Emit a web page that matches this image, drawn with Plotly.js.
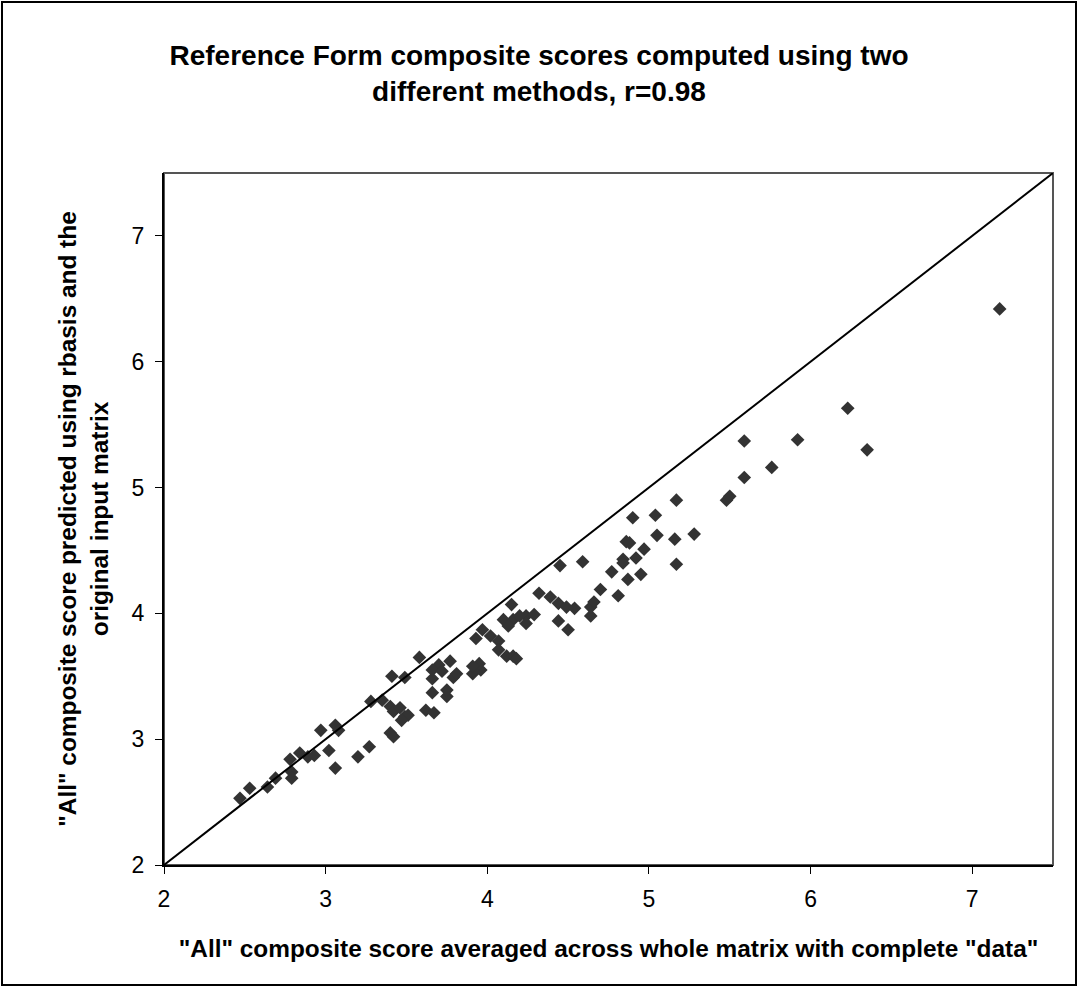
<!DOCTYPE html>
<html>
<head>
<meta charset="utf-8">
<script src="https://cdn.plot.ly/plotly-3.0.1.min.js"></script>
<style>html,body{margin:0;padding:0;background:#fff;}#chart{width:1078px;height:987px;}</style>
</head>
<body>
<div id="chart"></div>
<script>
// "All" composite score averaged across whole matrix with complete "data"
var averagedScore = [
  2.47, 2.53, 2.64, 2.69, 2.78, 2.79, 2.79, 2.84, 2.89, 2.93,
  2.97, 3.02, 3.06, 3.08, 3.06, 3.20, 3.27, 3.28, 3.35, 3.40,
  3.42, 3.46, 3.40, 3.42, 3.41, 3.49, 3.58, 3.49, 3.51, 3.47,
  3.62, 3.67, 3.66, 3.75, 3.66, 3.75, 3.79, 3.70, 3.77, 3.66,
  3.72, 3.81, 3.91, 3.96, 3.95, 3.91, 3.97, 3.93, 4.02, 4.07,
  4.07, 4.12, 4.16, 4.18, 4.15, 4.10, 4.16, 4.13, 4.24, 4.29,
  4.20, 4.24, 4.32, 4.39, 4.44, 4.49, 4.54, 4.45, 4.59, 4.50,
  4.44, 4.64, 4.66, 4.64, 4.70, 4.81, 4.77, 4.84, 4.84, 4.86,
  4.88, 4.87, 4.95, 4.92, 4.97, 4.90, 5.04, 5.05, 5.16, 5.17,
  5.17, 5.28, 5.48, 5.50, 5.59, 5.59, 5.76, 5.92, 6.23, 6.35,
  7.17
];
// "All" composite score predicted using rbasis and the original input matrix
var predictedScore = [
  2.53, 2.61, 2.62, 2.69, 2.84, 2.74, 2.69, 2.89, 2.86, 2.87,
  3.07, 2.91, 3.11, 3.07, 2.77, 2.86, 2.94, 3.30, 3.31, 3.26,
  3.22, 3.25, 3.05, 3.02, 3.50, 3.49, 3.65, 3.18, 3.19, 3.15,
  3.23, 3.21, 3.37, 3.34, 3.48, 3.39, 3.49, 3.59, 3.62, 3.55,
  3.54, 3.52, 3.52, 3.55, 3.60, 3.58, 3.87, 3.80, 3.82, 3.78,
  3.71, 3.66, 3.66, 3.64, 4.07, 3.95, 3.95, 3.90, 3.98, 3.99,
  3.98, 3.92, 4.16, 4.13, 4.08, 4.05, 4.04, 4.38, 4.41, 3.87,
  3.94, 4.05, 4.09, 3.98, 4.19, 4.14, 4.33, 4.43, 4.40, 4.57,
  4.56, 4.27, 4.31, 4.44, 4.51, 4.76, 4.78, 4.62, 4.59, 4.39,
  4.90, 4.63, 4.90, 4.93, 5.08, 5.37, 5.16, 5.38, 5.63, 5.30,
  6.42
];
// Identity reference line (y = x), corner to corner
var identityX = [2, 7.5];
var identityY = [2, 7.5];
var axisRange = [2, 7.5];

var FONT = 'Liberation Sans, Arial, Helvetica, sans-serif';

var traces = [
  {
    x: averagedScore, y: predictedScore,
    type: 'scatter', mode: 'markers',
    marker: {symbol: 'diamond', size: 10.5, color: '#333333', line: {width: 0}},
    showlegend: false, hoverinfo: 'x+y'
  },
  {
    x: identityX, y: identityY,
    type: 'scatter', mode: 'lines',
    line: {color: '#000000', width: 2},
    showlegend: false, hoverinfo: 'skip'
  }
];

var L = 164, R = 25, T = 173, B = 122, W = 1078, H = 987;
var pw = W - L - R, ph = H - T - B;
function px2x(p){ return (p - L) / pw; }
function py2y(p){ return (H - B - p) / ph; }

var layout = {
  width: W, height: H,
  margin: {l: L, r: R, t: T, b: B, pad: 0},
  paper_bgcolor: '#ffffff', plot_bgcolor: '#ffffff',
  font: {family: FONT, color: '#000000', size: 24},
  title: {
    text: '<b>Reference Form composite scores computed using two<br>different methods, r=0.98</b>',
    font: {family: FONT, size: 28, color: '#000000'},
    xref: 'container', x: 0.5, xanchor: 'center',
    yref: 'container', y: 1 - 65 / H, yanchor: 'middle'
  },
  xaxis: {
    range: axisRange, tick0: 2, dtick: 1,
    ticks: 'outside', ticklen: 7, tickwidth: 1, tickcolor: '#000000',
    ticklabelstandoff: 5,
    showgrid: false, zeroline: false,
    showline: true, linecolor: '#000000', linewidth: 2,
    tickfont: {family: FONT, size: 23, color: '#000000'},
    title: {
      text: '<b>"All" composite score averaged across whole matrix with complete "data"</b>',
      font: {family: FONT, size: 24.4, color: '#000000'},
      standoff: 29
    }
  },
  yaxis: {
    range: axisRange, tick0: 2, dtick: 1,
    ticks: 'outside', ticklen: 7, tickwidth: 1, tickcolor: '#000000',
    ticklabelstandoff: 6,
    showgrid: false, zeroline: false,
    showline: true, linecolor: '#000000', linewidth: 2,
    tickfont: {family: FONT, size: 23, color: '#000000'},
    title: {
      text: '<b>"All" composite score predicted using rbasis and the<br>original input matrix</b>',
      font: {family: FONT, size: 24.4, color: '#000000'},
      standoff: 16
    }
  },
  shapes: [
    {type: 'rect', xref: 'paper', yref: 'paper', x0: 0, x1: 1, y0: 0, y1: 1,
     line: {color: '#555555', width: 2}, layer: 'below'},
    {type: 'rect', xref: 'paper', yref: 'paper',
     x0: px2x(2), x1: px2x(1076), y0: py2y(985), y1: py2y(2),
     line: {color: '#000000', width: 2}, layer: 'below'}
  ]
};

Plotly.newPlot('chart', traces, layout, {displayModeBar: false, staticPlot: true});
</script>
</body>
</html>
